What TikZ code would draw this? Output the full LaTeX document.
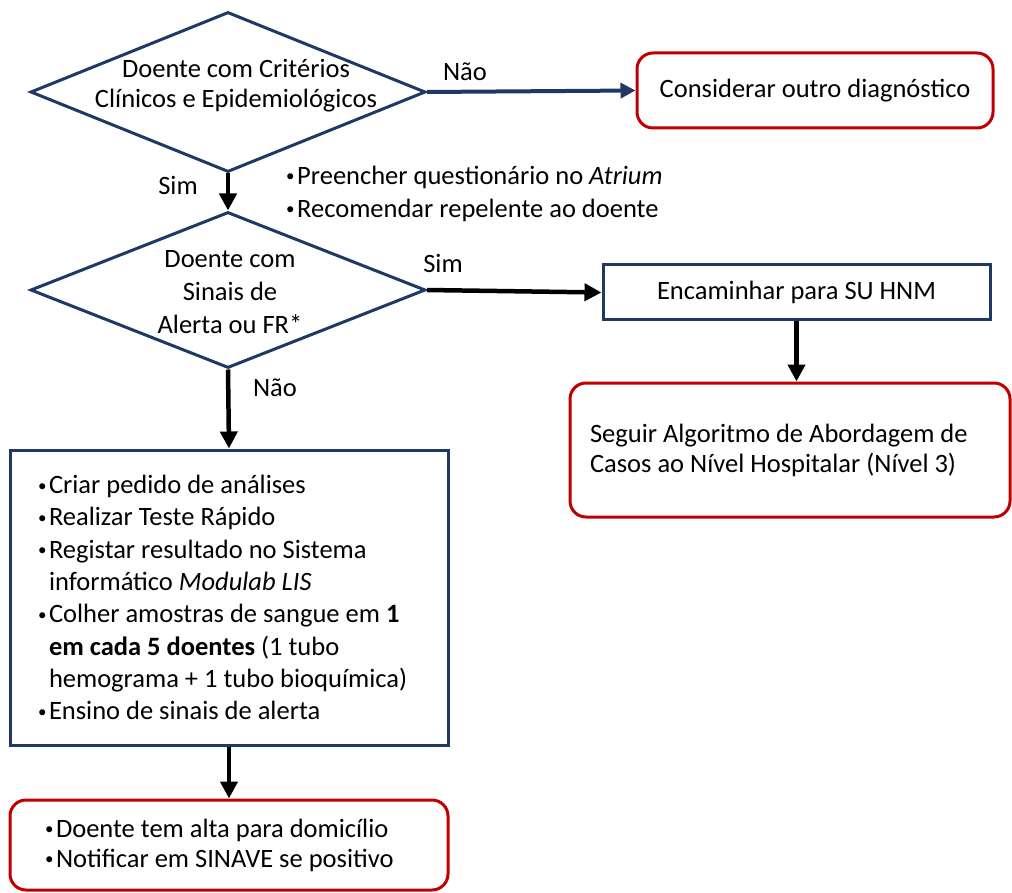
\documentclass[tikz,border=0pt]{standalone}
\usepackage{fontspec}
\setmainfont{Carlito}
\usetikzlibrary{shapes.geometric,arrows.meta}
\definecolor{navy}{RGB}{31,56,100}
\definecolor{crimson}{RGB}{192,0,0}
% small bullet followed by a fixed gap; \hang indents continuation lines
\newcommand\bul{\makebox[11pt][l]{\raisebox{2.5pt}{\fontsize{17}{17}\selectfont\textbullet}}}
\newcommand\hang{\hspace*{11pt}}
\begin{document}
\begin{tikzpicture}[x=1pt,y=-1pt,
  every node/.style={font=\fontsize{26.5}{32}\selectfont, text=black},
  decision/.style={draw=navy, line width=3pt, diamond, inner sep=0pt,
    minimum width=395pt, minimum height=160pt},
  redbox/.style={draw=crimson, line width=3pt, rounded corners=16pt, inner sep=0pt},
  bluebox/.style={draw=navy, line width=3pt, inner sep=0pt},
  arr/.style={line width=4.5pt, -{Triangle[length=17pt,width=17pt]}},
  navyarr/.style={draw=navy, line width=4pt, -{Triangle[length=15pt,width=15pt]}}]
\useasboundingbox (0,0) rectangle (1012,893);

% decisions
\node[decision] (d1) at (228,92) {};
\node[align=center, font=\fontsize{26.5}{30}\selectfont] (d1t) at (236,86)
  {Doente com Critérios\\Clínicos e Epidemiológicos};
\node[decision, minimum height=156pt] (d2) at (228,290) {};
\node[align=center, font=\fontsize{26.5}{33}\selectfont] (d2t) at (230,292)
  {Doente com\\Sinais de\\Alerta ou FR*};

% boxes
\node[redbox, minimum width=356pt, minimum height=75pt] (c1) at (815,90.5)
  {Considerar outro diagnóstico};
\node[bluebox, minimum width=387pt, minimum height=55pt] (enc) at (796.5,292.5)
  {Encaminhar para SU HNM};
\node[redbox, minimum width=440pt, minimum height=134pt, text width=400pt, align=flush left,
  font=\fontsize{26.5}{30}\selectfont] (seg) at (790,450)
  {Seguir Algoritmo de Abordagem de\\Casos ao Nível Hospitalar (Nível 3)};
\node[bluebox, minimum width=438pt, minimum height=295pt, text width=382pt, align=flush left,
  font=\fontsize{26.5}{32.3}\selectfont] (acts) at (229,597.5)
  {\bul Criar pedido de análises\\
   \bul Realizar Teste Rápido\\
   \bul Registar resultado no Sistema\\
   \hang informático \textit{Modulab LIS}\\
   \bul Colher amostras de sangue em \textbf{1}\\
   \hang\textbf{em cada 5 doentes} (1 tubo\\
   \hang hemograma + 1 tubo bioquímica)\\
   \bul Ensino de sinais de alerta};
\node[redbox, minimum width=438pt, minimum height=90pt, text width=368pt, align=flush left,
  font=\fontsize{26.5}{30}\selectfont] (out) at (229,845)
  {\bul Doente tem alta para domicílio\\
   \bul Notificar em SINAVE se positivo};

% side note
\node[align=flush left, anchor=west, inner sep=0pt, font=\fontsize{26.5}{33}\selectfont] (prep) at (286,193.5)
  {\bul Preencher questionário no \textit{Atrium}\\
   \bul Recomendar repelente ao doente};

% branch labels
\node (l1) at (465,72) {Não};
\node (l2) at (178,185) {Sim};
\node (l3) at (443,263) {Sim};
\node (l4) at (275,388) {Não};

% connectors
\draw[navyarr] (d1.east) -- (c1.west);
\draw[arr] (d1.south) -- (d2.north);
\draw[arr] (d2.east) -- (enc.west);
\draw[arr] (enc.south) -- (enc.south |- seg.north);
\draw[arr] (d2.south) -- (acts.north);
\draw[arr] (acts.south) -- (out.north);
\end{tikzpicture}
\end{document}
